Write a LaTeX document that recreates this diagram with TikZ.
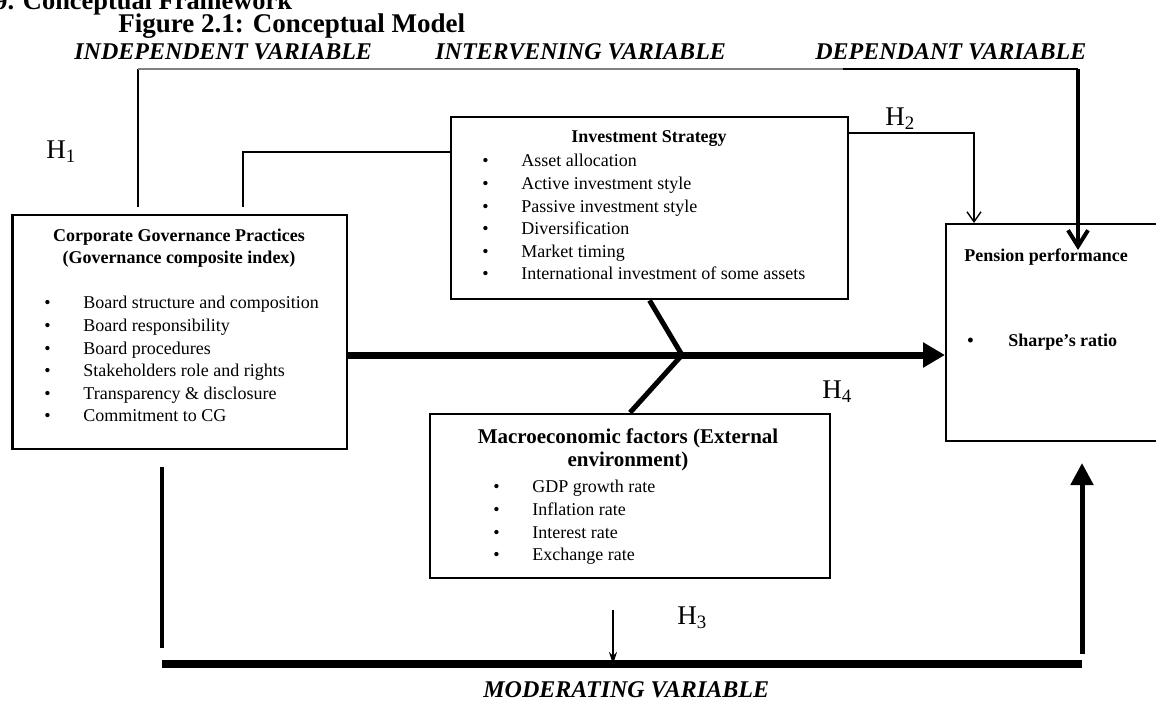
\documentclass[tikz,border=0pt]{standalone}
\usepackage{fontspec}
\setmainfont{Liberation Serif}
\usetikzlibrary{arrows.meta}

\newcommand{\bul}[1]{\makebox[19.5pt][l]{\textbullet}#1}

\begin{document}
\begin{tikzpicture}[x=0.5pt, y=-0.5pt,
    box/.style={draw, line width=1.4pt, inner sep=0pt},
    listtext/.style={font=\fontsize{9}{11.3}\selectfont, align=left, inner sep=0pt, anchor=north west},
    boxtitle/.style={font=\fontsize{9}{11}\selectfont\bfseries, align=center, inner sep=0pt},
    varname/.style={font=\fontsize{12}{14}\selectfont\bfseries\itshape, inner sep=0pt, anchor=base west},
    hyp/.style={font=\fontsize{13.5}{16}\selectfont, inner sep=0pt, anchor=base west},
    thinline/.style={line width=0.8pt},
    thinarrow/.style={line width=0.7pt, -{Straight Barb[length=5pt,width=7pt]}},
    bigbarb/.style={line width=2pt, -{Straight Barb[length=8pt,width=10pt]}},
    mainline/.style={line width=3.5pt, -{Triangle[length=11pt,width=12pt]}},
    fork/.style={line width=2.5pt},
    modline/.style={line width=4pt},
    sideline/.style={line width=2pt}]
  \useasboundingbox (0,0) rectangle (1156,702);
  \clip (0,0) rectangle (1156,702);

  % headings
  \node [anchor=base west, inner sep=0pt, font=\fontsize{13.2}{15}\selectfont\bfseries] (secttl) at (-6,9) {9. Conceptual Framework};
  \node [anchor=base west, inner sep=0pt, font=\fontsize{13.5}{15}\selectfont\bfseries] (figttl) at (118,32) {Figure 2.1: Conceptual Model};
  \node [varname] (indep) at (74,59) {INDEPENDENT VARIABLE};
  \node [varname] (interv) at (435,59) {INTERVENING VARIABLE};
  \node [varname] (dep) at (815,59) {DEPENDANT VARIABLE};
  \node [varname] (moder) at (483,697) {MODERATING VARIABLE};

  % boxes
  \node [box, minimum width=167.25pt, minimum height=117pt] (corp) at (179.75,332) {};
  \node [box, minimum width=198.5pt, minimum height=91pt] (inv) at (649.5,208) {};
  \node [box, minimum width=200pt, minimum height=82pt] (macro) at (630,496) {};
  \node [box, line width=1pt, minimum width=112pt, minimum height=108.5pt] (pens) at (1058,332.5) {};

  % box contents
  \node [boxtitle, anchor=north] (corpttl) at (179,229) {Corporate Governance Practices\\(Governance composite index)};
  \node [listtext] (corplist) at (44,296) {\bul{Board structure and composition}\\\bul{Board responsibility}\\\bul{Board procedures}\\\bul{Stakeholders role and rights}\\\bul{Transparency \& disclosure}\\\bul{Commitment to CG}};
  \node [boxtitle, anchor=base] (invttl) at (649,142) {Investment Strategy};
  \node [listtext] (invlist) at (482,154) {\bul{Asset allocation}\\\bul{Active investment style}\\\bul{Passive investment style}\\\bul{Diversification}\\\bul{Market timing}\\\bul{International investment of some assets}};
  \node [boxtitle, anchor=north, font=\fontsize{10.5}{11.5}\selectfont\bfseries] (macttl) at (628,428) {Macroeconomic factors (External\\environment)};
  \node [listtext] (maclist) at (493,480) {\bul{GDP growth rate}\\\bul{Inflation rate}\\\bul{Interest rate}\\\bul{Exchange rate}};
  \node [boxtitle, anchor=base west] (pensttl) at (964,261) {Pension performance};
  \node [listtext, font=\fontsize{9}{11.3}\selectfont\bfseries] (penslist) at (967,334) {\makebox[20.5pt][l]{\textbullet}Sharpe’s ratio};

  % hypothesis labels
  \node [hyp] (h1) at (46,158) {H\textsubscript{1}};
  \node [hyp] (h2) at (885,125) {H\textsubscript{2}};
  \node [hyp] (h3) at (677,624) {H\textsubscript{3}};
  \node [hyp] (h4) at (822,398) {H\textsubscript{4}};

  % connectors
  \coordinate (topl) at (138,69);
  \coordinate (topm) at (843,69);
  \coordinate (topr) at (1078,69);
  \coordinate (topend) at (1078,250);
  \coordinate (invlink) at (243,152);
  \coordinate (h2c) at (974,133);
  \coordinate (jn) at (682,355);
  \coordinate (modl) at (162,664);
  \coordinate (modr) at (1082,664);
  \coordinate (h3x) at (613,664);

  \draw [thinline, shorten <=3.5pt] (corp.north -| topl) -- (topl);
  \draw [thinline, black!50] (topl) -- (topm);
  \draw [thinline, line width=1pt] (topm) -- (topr);
  \draw [bigbarb] (topr) -- (topend);
  \draw [thinline, shorten >=3.5pt] (inv.west |- invlink) -| (corp.north -| invlink);
  \draw [thinarrow] (inv.east |- h2c) -| (pens.north -| h2c);
  \draw [mainline] (corp.east |- jn) -- (pens.west |- jn);
  \draw [fork] (inv.south) -- (jn) -- (macro.north);
  \draw [modline] (modl) -- (modr);
  \draw [sideline, shorten <=8.5pt, shorten >=8pt] (corp.south -| modl) -- (modl);
  \draw [sideline, line width=2.5pt, -{Triangle[length=11pt,width=11pt]}, shorten <=5pt, shorten >=10.5pt] (modr) -- (pens.south -| modr);
  \draw [line width=0.7pt, -{Stealth[length=6pt,width=4pt]}, shorten <=15.5pt] (macro.south -| h3x) -- (h3x);
\end{tikzpicture}
\end{document}
